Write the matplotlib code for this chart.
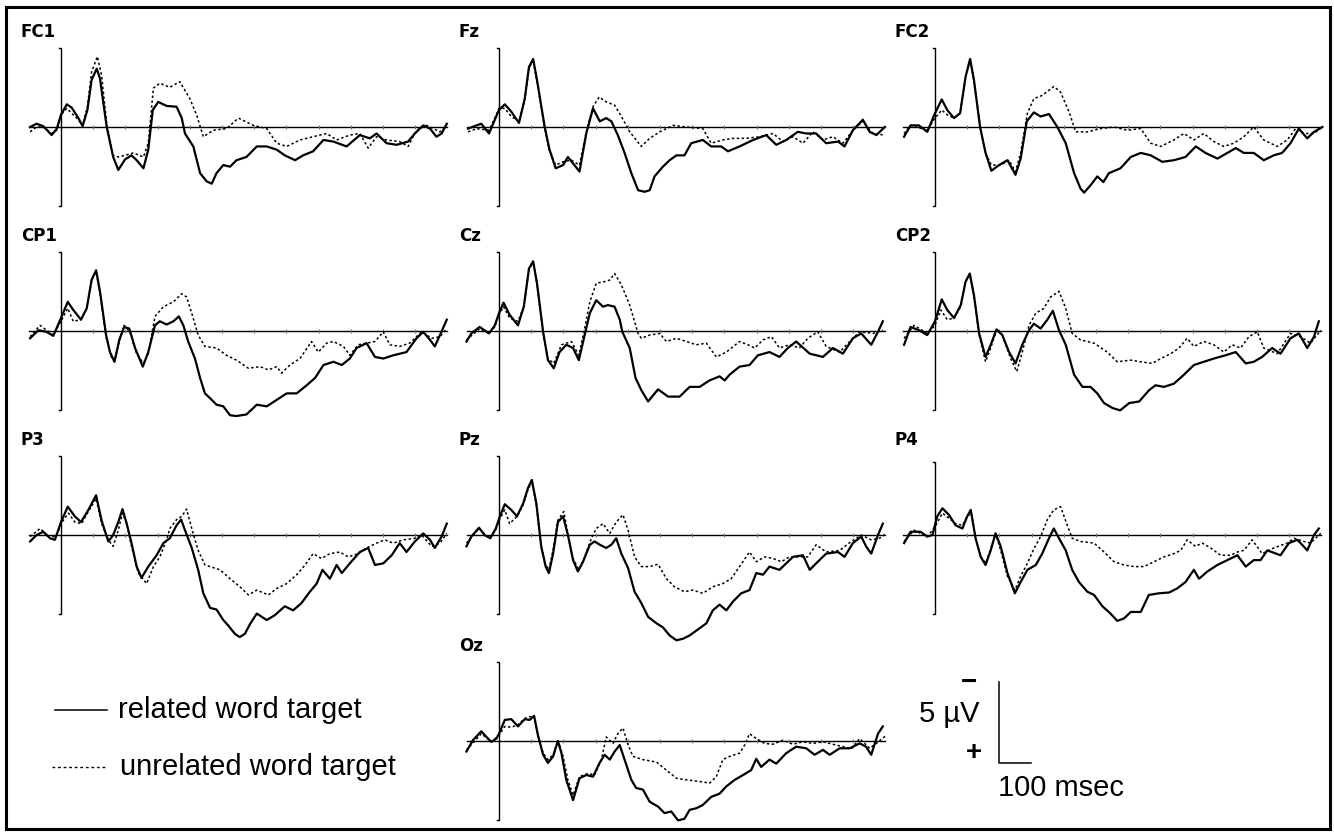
import numpy as np
import matplotlib.pyplot as plt
from matplotlib.lines import Line2D
from matplotlib.patches import Rectangle

plt.rcParams['font.family'] = ['Liberation Sans', 'DejaVu Sans']

# ---- ERP data: (ms, µV); negative plotted up ----
FC1_REL = [(-96, 0.0), (-76, -0.2), (-55, -0.05), (-29, 0.5), (-13, 0.1), (0, -0.75), (18, -1.4), (33, -1.2),
           (54, -0.55), (67, -0.05), (82, -1.05), (95, -2.9), (111, -3.6), (121, -3.0), (142, 0.0), (162, 1.85),
           (178, 2.65), (199, 2.0), (219, 1.75), (235, 2.05), (256, 2.55), (271, 1.4), (285, -1.05), (302, -1.55),
           (328, -1.3), (359, -1.25), (375, -0.55), (385, 0.4), (411, 1.2), (432, 2.85), (452, 3.35), (468, 3.5),
           (483, 2.85), (504, 2.35), (525, 2.45), (545, 2.05), (576, 1.85), (608, 1.2), (639, 1.2), (670, 1.4),
           (695, 1.75), (727, 2.05), (752, 1.75), (783, 1.5), (815, 0.8), (846, 0.9), (887, 1.2), (928, 0.5),
           (959, 0.7), (980, 0.4), (1011, 1.0), (1042, 1.1), (1078, 0.9), (1099, 0.4), (1125, -0.1), (1146, 0.1),
           (1166, 0.6), (1182, 0.4), (1198, -0.2)]
FC1_UNREL = [(-96, 0.3), (-76, 0.0), (-55, 0.0), (-29, 0.4), (-13, 0.2), (0, -0.75), (18, -1.15), (33, -0.85),
             (54, -0.45), (67, -0.1), (82, -1.25), (95, -3.4), (113, -4.35), (126, -3.2), (142, -0.2), (162, 1.75),
             (178, 1.85), (199, 1.75), (225, 1.6), (256, 1.85), (271, 1.0), (287, -2.4), (307, -2.7), (338, -2.45),
             (369, -2.8), (400, -1.75), (421, -0.75), (442, 0.6), (473, 0.2), (514, 0.1), (551, -0.55), (597, -0.1),
             (639, 0.1), (670, 1.0), (701, 1.2), (742, 0.8), (783, 0.6), (825, 0.4), (856, 0.8), (897, 0.5),
             (928, 0.4), (954, 1.3), (980, 0.6), (1011, 0.8), (1052, 0.9), (1078, 1.2), (1104, 0.2), (1135, -0.1),
             (1177, 0.3), (1198, -0.1)]

FZ_REL = [(-96, 0.1), (-70, -0.1), (-55, -0.2), (-31, 0.4), (-13, -0.45), (0, -1.05), (18, -1.4), (38, -0.95),
          (62, -0.25), (80, -1.75), (93, -3.7), (106, -4.2), (118, -2.9), (142, 0.0), (157, 1.4), (176, 2.55),
          (199, 2.35), (214, 1.85), (230, 2.25), (250, 2.75), (271, 0.4), (292, -1.15), (313, -0.35), (333, -0.55),
          (349, -0.35), (369, 0.5), (390, 1.6), (411, 2.85), (432, 3.9), (452, 4.0), (468, 3.9), (483, 3.05),
          (509, 2.45), (530, 2.05), (551, 1.75), (576, 1.75), (597, 1.0), (633, 0.8), (659, 1.2), (690, 1.2),
          (711, 1.5), (747, 1.2), (789, 0.8), (830, 0.5), (861, 1.1), (892, 0.8), (928, 0.3), (954, 0.4),
          (985, 0.4), (1016, 1.0), (1053, 0.9), (1073, 1.2), (1099, 0.2), (1130, -0.45), (1151, 0.3), (1172, 0.5),
          (1198, 0.0)]
FZ_UNREL = [(-96, 0.3), (-70, 0.1), (-31, 0.2), (-13, -0.55), (0, -1.15), (18, -1.15), (38, -0.65), (62, -0.35),
            (80, -1.65), (93, -3.6), (106, -4.15), (118, -2.8), (142, 0.1), (157, 1.5), (176, 2.35), (199, 2.15),
            (225, 2.05), (250, 2.35), (271, 0.3), (292, -1.25), (311, -1.85), (333, -1.55), (359, -1.35),
            (380, -0.65), (406, 0.3), (442, 1.2), (468, 0.7), (499, 0.3), (540, -0.1), (582, 0.0), (633, 0.1),
            (659, 1.0), (695, 0.8), (727, 0.7), (768, 0.7), (809, 0.6), (851, 0.4), (882, 0.9), (913, 0.6),
            (944, 1.0), (975, 0.3), (1006, 0.8), (1037, 0.6), (1068, 1.0), (1099, 0.2), (1130, -0.35), (1161, 0.4),
            (1198, 0.5)]

FC2_REL = [(-96, 0.6), (-76, -0.1), (-50, -0.1), (-24, 0.3), (0, -0.85), (21, -1.7), (38, -1.05), (59, -0.55),
           (78, -0.85), (95, -3.1), (109, -4.2), (121, -2.9), (140, 0.0), (157, 1.6), (175, 2.7), (199, 2.35),
           (225, 2.05), (250, 2.95), (266, 1.95), (285, -0.35), (307, -0.9), (328, -0.65), (354, -0.8), (380, 0.0),
           (406, 1.0), (432, 2.85), (452, 3.8), (463, 4.05), (483, 3.6), (504, 3.05), (523, 3.4), (540, 2.85),
           (576, 2.55), (608, 1.85), (639, 1.6), (670, 1.75), (706, 2.15), (742, 2.05), (778, 1.85), (810, 1.2),
           (840, 1.6), (877, 1.95), (908, 1.6), (934, 1.3), (959, 1.6), (990, 1.6), (1021, 2.05), (1052, 1.75),
           (1078, 1.6), (1104, 1.0), (1130, 0.1), (1156, 0.7), (1177, 0.3), (1203, 0.0)]
FC2_UNREL = [(-96, 0.4), (-76, -0.1), (-24, 0.2), (0, -0.55), (21, -1.05), (38, -0.75), (59, -0.55), (78, -0.85),
             (95, -3.1), (109, -4.15), (121, -2.8), (140, -0.1), (157, 1.6), (175, 2.35), (204, 2.35), (230, 2.05),
             (250, 2.75), (266, 1.6), (287, -0.85), (307, -1.75), (333, -1.95), (369, -2.5), (390, -2.15),
             (416, -0.95), (437, 0.3), (473, 0.3), (514, 0.1), (556, 0.0), (597, 0.2), (639, 0.1), (670, 1.0),
             (701, 1.2), (742, 0.8), (773, 0.4), (804, 0.8), (835, 0.4), (866, 0.9), (897, 1.2), (928, 1.0),
             (959, 0.6), (990, 0.0), (1021, 0.8), (1063, 1.2), (1094, 0.8), (1120, 0.1), (1146, 0.4), (1177, 0.4),
             (1203, 0.0)]

CP1_REL = [(-96, 0.45), (-70, -0.05), (-45, 0.05), (-24, 0.3), (0, -0.8), (21, -1.8), (38, -1.3), (62, -0.7),
           (80, -1.4), (95, -3.15), (109, -3.75), (121, -2.45), (140, 0.25), (152, 1.3), (166, 1.9), (181, 0.55),
           (196, -0.25), (212, -0.15), (230, 1.05), (254, 2.2), (271, 1.3), (292, -0.35), (307, -0.6), (328, -0.4),
           (349, -0.6), (366, -0.9), (380, -0.35), (395, 0.65), (416, 1.7), (432, 2.9), (447, 3.85), (463, 4.15),
           (483, 4.55), (504, 4.65), (525, 5.2), (545, 5.25), (576, 5.15), (608, 4.55), (639, 4.65), (670, 4.25),
           (701, 3.85), (732, 3.85), (763, 3.35), (789, 2.9), (815, 2.1), (846, 1.9), (872, 2.1), (897, 1.7),
           (918, 1.05), (949, 0.75), (975, 1.6), (1001, 1.7), (1032, 1.5), (1073, 1.3), (1104, 0.45), (1125, 0.05),
           (1146, 0.55), (1161, 0.95), (1177, 0.25), (1198, -0.7)]
CP1_UNREL = [(-96, 0.35), (-65, -0.35), (-45, -0.05), (-24, 0.25), (0, -0.6), (21, -1.4), (38, -0.6), (62, -0.7),
             (80, -1.4), (95, -3.15), (109, -3.65), (121, -2.35), (140, 0.35), (154, 1.5), (166, 1.9), (181, 0.65),
             (196, -0.35), (214, 0.05), (235, 1.4), (256, 2.0), (271, 1.4), (292, -0.9), (318, -1.5), (349, -1.8),
             (375, -2.3), (390, -2.1), (406, -1.1), (426, 0.25), (447, 0.95), (483, 1.05), (514, 1.5), (545, 1.8),
             (582, 2.3), (618, 2.2), (644, 2.4), (670, 2.2), (685, 2.6), (711, 2.1), (742, 1.7), (778, 0.65),
             (799, 1.3), (825, 0.75), (846, 0.65), (877, 0.95), (897, 1.5), (923, 0.85), (949, 0.75), (975, 0.65),
             (1001, 0.05), (1021, 0.85), (1052, 0.95), (1083, 0.75), (1120, 0.05), (1151, 0.45), (1177, 0.35),
             (1198, -0.15)]

CZ_REL = [(-101, 0.65), (-86, 0.15), (-60, -0.25), (-31, 0.15), (-13, -0.35), (0, -1.1), (14, -1.75), (33, -1.0),
          (59, -0.35), (77, -1.5), (93, -3.85), (106, -4.3), (118, -2.95), (137, 0.05), (152, 1.8), (170, 2.3),
          (188, 1.3), (209, 0.85), (230, 1.05), (248, 1.8), (266, 0.25), (282, -1.1), (302, -1.9), (323, -1.5),
          (338, -1.6), (359, -1.5), (375, -0.7), (383, 0.05), (406, 1.05), (424, 2.9), (442, 3.65), (463, 4.35),
          (494, 3.6), (525, 4.05), (561, 4.05), (592, 3.45), (623, 3.45), (654, 3.05), (685, 2.8), (701, 3.05),
          (716, 2.7), (747, 2.2), (778, 2.1), (804, 1.5), (840, 1.3), (871, 1.6), (897, 1.05), (923, 0.65),
          (965, 1.4), (1006, 1.6), (1037, 1.05), (1068, 1.4), (1099, 0.45), (1125, 0.15), (1156, 0.85),
          (1177, 0.05), (1192, -0.6)]
CZ_UNREL = [(-101, 0.55), (-60, -0.15), (-31, 0.15), (-13, -0.25), (0, -1.0), (14, -1.5), (33, -0.8), (59, -0.6),
            (77, -1.5), (93, -3.75), (106, -4.3), (118, -2.85), (137, 0.15), (152, 1.7), (170, 2.0), (194, 0.85),
            (225, 0.65), (248, 1.5), (266, -0.15), (282, -1.8), (302, -2.95), (328, -3.05), (344, -3.15),
            (359, -3.55), (380, -2.85), (406, -1.6), (432, 0.15), (442, 0.45), (468, 0.25), (499, 0.15), (520, 0.65),
            (551, 0.45), (582, 0.65), (613, 0.85), (644, 0.75), (675, 1.6), (706, 1.3), (747, 0.65), (773, 0.85),
            (794, 1.05), (820, 0.55), (846, 0.35), (871, 1.05), (902, 0.85), (933, 1.05), (959, 0.45), (990, 0.05),
            (1016, 0.95), (1058, 1.3), (1089, 0.65), (1120, 0.05), (1161, 0.15), (1192, -0.05)]

CP2_REL = [(-96, 0.85), (-76, -0.25), (-50, -0.05), (-24, 0.25), (0, -0.6), (21, -1.95), (38, -1.3), (59, -0.8),
           (80, -1.6), (95, -3.05), (108, -3.55), (121, -2.2), (137, 0.15), (157, 1.6), (173, 0.85), (191, -0.1),
           (209, 0.25), (230, 1.3), (250, 2.0), (271, 0.85), (292, -0.05), (307, -0.45), (328, -0.15), (349, -0.7),
           (366, -1.25), (385, -0.05), (406, 0.85), (432, 2.7), (458, 3.45), (483, 3.45), (504, 3.85), (525, 4.45),
           (551, 4.75), (575, 4.9), (603, 4.45), (634, 4.35), (665, 3.65), (685, 3.35), (711, 3.45), (742, 3.25),
           (773, 2.7), (804, 2.1), (835, 1.9), (866, 1.7), (902, 1.5), (934, 1.3), (965, 2.0), (990, 1.9),
           (1016, 1.6), (1047, 1.05), (1073, 1.4), (1104, 0.45), (1130, 0.15), (1156, 1.05), (1177, 0.35),
           (1192, -0.6)]
CP2_UNREL = [(-96, 0.45), (-65, -0.35), (-24, 0.15), (0, -0.35), (18, -1.3), (38, -0.7), (59, -0.8), (80, -1.5),
             (95, -3.05), (108, -3.45), (121, -2.2), (137, 0.25), (157, 1.9), (173, 1.05), (191, -0.05), (209, 0.25),
             (235, 1.7), (254, 2.5), (271, 1.3), (292, -0.35), (313, -1.1), (338, -1.4), (359, -2.1), (385, -2.45),
             (406, -1.4), (426, 0.15), (452, 0.55), (494, 0.75), (535, 1.3), (566, 1.9), (608, 1.8), (639, 1.9),
             (675, 2.0), (701, 1.7), (732, 1.4), (758, 1.05), (783, 0.45), (804, 0.95), (835, 0.65), (866, 0.85),
             (897, 1.3), (923, 0.85), (949, 1.05), (975, 0.35), (1001, 0.05), (1021, 1.05), (1063, 1.4),
             (1104, 0.15), (1135, 0.35), (1166, 0.75), (1198, -0.05)]

P3_REL = [(-96, 0.4), (-76, 0.0), (-55, -0.2), (-34, 0.2), (-19, 0.3), (0, -0.8), (21, -1.75), (43, -1.15),
          (62, -0.8), (85, -1.55), (109, -2.45), (126, -0.9), (147, 0.4), (162, 0.0), (178, -0.8), (191, -1.6),
          (204, -0.7), (219, 0.5), (235, 1.95), (250, 2.65), (271, 1.95), (297, 1.25), (318, 0.5), (338, 0.2),
          (359, -0.6), (373, -0.95), (385, -0.3), (406, 0.8), (426, 2.15), (442, 3.6), (463, 4.5), (483, 4.6),
          (504, 5.25), (520, 5.6), (540, 6.1), (555, 6.3), (571, 6.1), (587, 5.5), (608, 4.85), (639, 5.25),
          (664, 4.95), (695, 4.4), (721, 4.65), (747, 4.2), (773, 3.5), (794, 3.0), (812, 2.15), (835, 2.7),
          (856, 1.85), (872, 2.35), (897, 1.75), (928, 1.05), (954, 0.8), (975, 1.85), (1001, 1.75), (1027, 1.25),
          (1052, 0.5), (1073, 1.05), (1099, 0.4), (1125, -0.1), (1146, 0.3), (1161, 0.8), (1182, 0.1), (1198, -0.7)]
P3_UNREL = [(-96, 0.1), (-65, -0.4), (-34, 0.2), (-13, 0.0), (0, -0.7), (23, -1.35), (43, -0.8), (64, -0.7),
            (85, -1.45), (109, -2.25), (126, -0.7), (147, 0.3), (162, 0.7), (178, -0.3), (191, -1.35), (204, -0.7),
            (219, 0.7), (240, 2.35), (266, 3.0), (287, 1.95), (307, 1.35), (328, 0.3), (338, -0.4), (359, -0.95),
            (375, -1.15), (390, -1.6), (406, -0.4), (426, 0.95), (447, 1.85), (494, 2.15), (525, 2.7), (556, 3.2),
            (582, 3.7), (608, 3.4), (644, 3.7), (670, 3.3), (701, 3.0), (732, 2.45), (758, 1.85), (783, 1.15),
            (809, 1.45), (835, 1.15), (866, 1.05), (892, 1.35), (923, 1.15), (949, 0.8), (980, 0.5), (1006, 0.3),
            (1032, 0.5), (1063, 0.3), (1099, 0.2), (1120, 0.0), (1151, 0.7), (1177, 0.5), (1198, -0.1)]

PZ_REL = [(-101, 0.7), (-86, 0.1), (-62, -0.45), (-45, 0.0), (-27, 0.2), (-10, -0.4), (0, -1.0), (18, -1.9),
          (38, -1.55), (56, -1.15), (75, -1.95), (90, -2.9), (102, -3.4), (116, -1.95), (131, 0.7), (145, 1.95),
          (155, 2.35), (168, 1.15), (183, -0.8), (199, -1.15), (214, 0.0), (230, 1.55), (245, 2.25), (261, 1.65),
          (282, 0.6), (297, 0.4), (313, 0.6), (333, 0.8), (349, 0.6), (364, 0.2), (380, 1.15), (401, 2.05),
          (421, 3.5), (442, 4.2), (463, 5.05), (489, 5.45), (509, 5.7), (530, 6.2), (551, 6.5), (572, 6.4),
          (592, 6.2), (613, 5.9), (644, 5.45), (664, 4.65), (685, 4.3), (706, 4.65), (727, 4.1), (752, 3.6),
          (778, 3.4), (799, 2.35), (820, 2.45), (840, 1.95), (871, 2.15), (892, 1.75), (913, 1.35), (944, 1.25),
          (965, 2.15), (990, 1.65), (1016, 1.15), (1053, 1.05), (1073, 1.35), (1099, 0.5), (1125, 0.1), (1140, 0.7),
          (1156, 1.15), (1177, 0.0), (1192, -0.7)]
PZ_UNREL = [(-101, 0.5), (-62, -0.4), (-31, 0.2), (-10, -0.3), (0, -0.9), (18, -1.55), (33, -0.7), (56, -1.15),
            (75, -1.85), (90, -2.8), (102, -3.3), (116, -1.85), (131, 0.7), (145, 1.85), (155, 2.15), (168, 0.9),
            (183, -0.9), (201, -1.45), (214, -0.1), (230, 1.45), (248, 2.15), (266, 1.35), (287, 0.2), (302, -0.4),
            (323, -0.7), (344, -0.1), (364, -0.8), (385, -1.25), (401, -0.3), (421, 1.35), (442, 1.95), (468, 1.95),
            (494, 1.8), (520, 2.7), (545, 3.2), (576, 3.5), (602, 3.4), (633, 3.6), (664, 3.2), (695, 3.0),
            (721, 2.7), (747, 1.95), (778, 1.05), (799, 1.65), (825, 1.35), (851, 1.45), (877, 1.65), (902, 1.35),
            (933, 1.35), (959, 1.35), (985, 0.6), (1016, 1.05), (1058, 0.95), (1094, 0.4), (1125, 0.0), (1156, 0.3),
            (1182, 0.2), (1203, -0.1)]

P4_REL = [(-96, 0.5), (-76, -0.2), (-45, -0.2), (-24, 0.1), (-8, 0.0), (7, -1.15), (23, -1.65), (43, -1.25),
          (64, -0.6), (85, -0.4), (100, -1.15), (111, -1.55), (126, 0.2), (142, 1.35), (157, 1.85), (173, 0.95),
          (188, -0.1), (204, 0.7), (225, 2.35), (248, 3.6), (266, 2.9), (287, 2.15), (313, 1.85), (333, 1.15),
          (354, 0.2), (369, -0.4), (385, 0.2), (406, 0.95), (426, 2.15), (447, 2.9), (473, 3.5), (494, 3.7),
          (520, 4.4), (545, 4.85), (566, 5.3), (587, 5.15), (608, 4.75), (639, 4.75), (664, 3.7), (695, 3.6),
          (727, 3.55), (752, 3.3), (778, 2.9), (804, 2.15), (820, 2.7), (846, 2.25), (877, 1.85), (908, 1.55),
          (939, 1.25), (965, 1.95), (990, 1.55), (1011, 1.55), (1032, 0.95), (1073, 1.25), (1099, 0.5), (1125, 0.3),
          (1140, 0.6), (1156, 0.95), (1177, 0.0), (1192, -0.4)]
P4_UNREL = [(-96, 0.4), (-65, -0.3), (-24, 0.1), (0, -0.5), (23, -1.35), (43, -1.05), (64, -0.7), (85, -0.6),
            (100, -1.15), (113, -1.35), (126, 0.2), (142, 1.35), (157, 1.75), (173, 0.85), (188, -0.1), (204, 0.95),
            (225, 2.55), (248, 3.4), (266, 2.55), (287, 1.75), (307, 0.85), (328, 0.1), (349, -0.95), (369, -1.55),
            (390, -1.75), (409, -0.7), (426, 0.2), (452, 0.4), (494, 0.5), (525, 1.05), (556, 1.65), (587, 1.85),
            (618, 1.95), (649, 1.95), (680, 1.65), (711, 1.35), (742, 1.15), (763, 0.95), (783, 0.3), (809, 0.7),
            (830, 0.5), (856, 0.8), (887, 1.25), (918, 1.25), (939, 1.05), (959, 0.95), (985, 0.3), (1016, 1.15),
            (1052, 0.8), (1094, 0.5), (1115, 0.2), (1146, 0.4), (1166, 0.5), (1198, -0.1)]

OZ_REL = [(-101, 0.65), (-81, -0.05), (-55, -0.6), (-39, -0.25), (-24, 0.05), (-8, -0.15), (0, -0.45), (18, -1.3),
          (38, -1.35), (59, -0.9), (80, -1.35), (95, -1.3), (109, -1.55), (121, -0.35), (137, 0.85), (152, 1.35),
          (168, 0.95), (183, 0.0), (194, 0.75), (209, 2.4), (230, 3.65), (250, 2.3), (271, 2.1), (292, 2.2),
          (311, 1.4), (328, 0.85), (344, 1.15), (359, 0.65), (375, 0.25), (390, 1.15), (411, 2.4), (426, 2.9),
          (447, 3.0), (468, 3.75), (494, 4.05), (514, 4.45), (535, 4.35), (556, 4.9), (576, 4.8), (592, 4.25),
          (613, 4.15), (633, 3.95), (659, 3.45), (685, 3.25), (706, 2.8), (732, 2.4), (758, 2.1), (783, 1.8),
          (799, 1.1), (814, 1.6), (840, 1.15), (861, 1.4), (892, 0.75), (923, 0.35), (954, 0.45), (980, 0.85),
          (1006, 0.55), (1027, 0.85), (1058, 0.45), (1089, 0.45), (1120, 0.15), (1140, 0.35), (1156, 0.85),
          (1177, -0.45), (1192, -0.9)]
OZ_UNREL = [(-101, 0.55), (-55, -0.45), (-24, 0.05), (0, -0.35), (18, -0.9), (38, -0.85), (59, -1.0), (80, -1.4),
            (95, -1.5), (109, -1.5), (121, -0.35), (137, 0.75), (152, 1.15), (168, 0.85), (183, -0.05), (199, 0.95),
            (214, 2.4), (230, 3.35), (250, 2.2), (276, 2.0), (297, 2.1), (318, 1.15), (333, -0.25), (354, 0.15),
            (369, -0.45), (385, -0.8), (401, 0.25), (416, 0.95), (447, 1.15), (489, 1.3), (520, 1.8), (551, 2.3),
            (582, 2.4), (623, 2.5), (654, 2.6), (675, 2.2), (695, 1.15), (716, 0.95), (747, 0.75), (763, 0.25),
            (778, -0.45), (799, -0.15), (825, 0.15), (851, 0.2), (882, -0.05), (913, 0.2), (944, 0.05), (975, 0.15),
            (1006, 0.05), (1037, 0.2), (1068, 0.35), (1094, 0.5), (1120, -0.15), (1151, 0.45), (1172, 0.15),
            (1203, -0.35)]

CHANNELS = ['FC1', 'Fz', 'FC2', 'CP1', 'Cz', 'CP2', 'P3', 'Pz', 'P4', 'Oz']
RELATED = [FC1_REL, FZ_REL, FC2_REL, CP1_REL, CZ_REL, CP2_REL, P3_REL, PZ_REL, P4_REL, OZ_REL]
UNRELATED = [FC1_UNREL, FZ_UNREL, FC2_UNREL, CP1_UNREL, CZ_UNREL, CP2_UNREL, P3_UNREL, PZ_UNREL, P4_UNREL, OZ_UNREL]
GRID_POS = [(0, 0), (0, 1), (0, 2), (1, 0), (1, 1), (1, 2), (2, 0), (2, 1), (2, 2), (3, 1)]
AXIS_TOP = [-4.85, -4.85, -4.85, -4.85, -4.85, -4.85, -4.85, -4.85, -4.5, -4.85]

# ---- layout in pixels ----
W, H = 1334, 836
PX_MS = 0.322        # pixels per ms
PX_UV = 16.2         # pixels per µV
COL_X0 = [61, 499, 935]
ROW_Y0 = [127, 331, 535, 741]
T0, T1 = -100, 1200
VR = 7

fig = plt.figure(figsize=(W / 100, H / 100), dpi=100)


def px(x, y):
    return x / W, 1 - y / H


def panel_axes(x0, y0):
    left = x0 + T0 * PX_MS
    width = (T1 - T0) * PX_MS
    top = y0 - VR * PX_UV
    height = 2 * VR * PX_UV
    ax = fig.add_axes([left / W, 1 - (top + height) / H, width / W, height / H])
    ax.set_xlim(T0, T1)
    ax.set_ylim(VR, -VR)
    ax.axis('off')
    return ax


for name, rel, unrel, (r, c), atop in zip(CHANNELS, RELATED, UNRELATED, GRID_POS, AXIS_TOP):
    ax = panel_axes(COL_X0[c], ROW_Y0[r])
    # baseline and stimulus axis
    ax.plot([T0, T1], [0, 0], color='k', lw=1.0, clip_on=False)
    ax.plot(np.arange(100, 1200, 100), np.zeros(11), '|', color='0.45', ms=3, mew=0.8, clip_on=False)
    ax.plot([-7, 0, 0, -7], [atop, atop, 4.85, 4.85], color='k', lw=1.0, clip_on=False)

    t_u, v_u = zip(*unrel)
    ax.plot(t_u, v_u, color='k', lw=1.1, ls=(0, (1.6, 1.6)), clip_on=False)
    t_r, v_r = zip(*rel)
    ax.plot(t_r, v_r, color='k', lw=1.6, clip_on=False)

    ax.text(-125, -5.85, name, family='DejaVu Sans', fontweight='bold', fontsize=12,
            ha='left', va='center')

# ---- scale bar ----
sax = panel_axes(COL_X0[2], ROW_Y0[3])
bar_t, bar_v = 199, 1.36
sax.plot([bar_t, bar_t, bar_t + 100], [bar_v - 5, bar_v, bar_v], color='k', lw=1.1, clip_on=False)
sax.text(bar_t - 60, bar_v - 3.03, '5 µV', fontsize=21, ha='right', va='center')
sax.text(bar_t - 92, bar_v - 4.94, '\u2212', fontsize=20, fontweight='bold', ha='center', va='center')
sax.text(bar_t - 78, bar_v - 0.62, '+', fontsize=20, fontweight='bold', ha='center', va='center')
sax.text(bar_t - 3, bar_v + 1.55, '100 msec', fontsize=21, ha='left', va='center')

# ---- legend ----
fig.add_artist(Line2D(*zip(px(55, 710), px(107, 710)), color='k', lw=1.1, transform=fig.transFigure))
fig.add_artist(Line2D(*zip(px(52, 767), px(107, 767)), color='k', lw=1.0, ls=(0, (2, 2)),
                      transform=fig.transFigure))
fig.text(*px(118, 710), 'related word target', fontsize=21, ha='left', va='center')
fig.text(*px(120, 767), 'unrelated word target', fontsize=21, ha='left', va='center')

# ---- frame ----
fig.add_artist(Rectangle(px(6, 829), 1324 / W, 822 / H, fill=False, lw=2.2, ec='k',
                         transform=fig.transFigure))

fig.savefig('out.png', dpi=100)
